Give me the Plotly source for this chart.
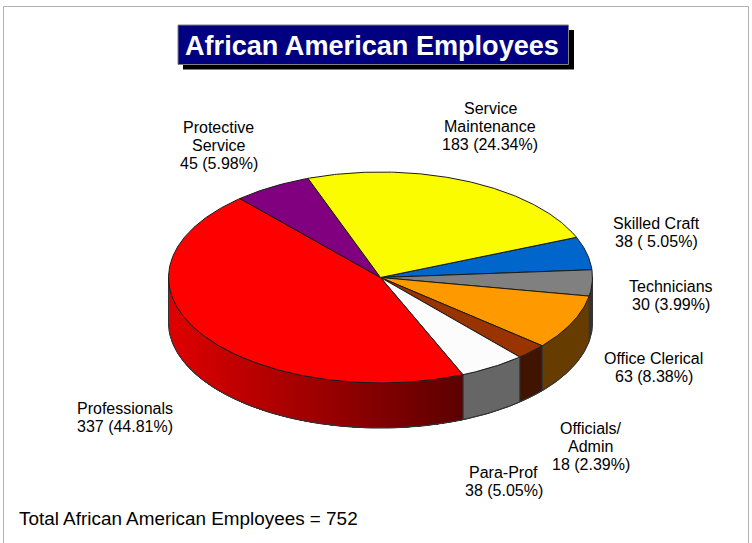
import math
import plotly.graph_objects as go

# Data, in drawing order (clockwise from the yellow / blue boundary)
categories = ["Skilled Craft", "Technicians", "Office Clerical", "Officials/ Admin",
              "Para-Prof", "Professionals", "Protective Service", "Service Maintenance"]
values = [38, 30, 63, 18, 38, 337, 45, 183]
label_lines = [
    ["Skilled Craft", "38 ( 5.05%)"],
    ["Technicians", "30 (3.99%)"],
    ["Office Clerical", "63 (8.38%)"],
    ["Officials/", "Admin", "18 (2.39%)"],
    ["Para-Prof", "38 (5.05%)"],
    ["Professionals", "337 (44.81%)"],
    ["Protective", "Service", "45 (5.98%)"],
    ["Service", "Maintenance", "183 (24.34%)"],
]
title_text = "African American Employees"
footer_text = "Total African American Employees = 752"

# Styles
top_colors = ["#0066cc", "#808080", "#ff9900", "#993300", "#fcfcfc", "#ff0000", "#800080", "#fcfc00"]
side_colors = ["#003366", "#333333", "#663c00", "#401400", "#666666", None, "#400040", "#808000"]
label_pos = [(656, 232.5), (671, 295), (653.5, 367), (590.5, 446), (503.5, 481), (125, 417), (218.5, 145), (490, 126)]

W, H = 752, 543
CX, CY, RX, RY, DEPTH = 380.5, 277.5, 212, 105.5, 45
START = 22.4
LINE = "#1a1a1a"
LABEL_STEP = 18

total = sum(values)
angles = [START]
for v in values:
    angles.append(angles[-1] - v / total * 360)


def pt(a, dy=0):
    r = math.radians(a)
    return CX + RX * math.cos(r), CY - RY * math.sin(r) + dy


def arc(a0, a1, dy=0, step=0.5):
    n = max(2, int(abs(a1 - a0) / step) + 1)
    return [pt(a0 + (a1 - a0) * i / (n - 1), dy) for i in range(n)]


fig = go.Figure()


def poly(points, fill=None, line=None, width=1, closed=True):
    xs = [p[0] for p in points]
    ys = [p[1] for p in points]
    if closed:
        xs.append(xs[0])
        ys.append(ys[0])
    fig.add_trace(go.Scatter(
        x=xs, y=ys, mode="lines", hoverinfo="skip", showlegend=False,
        fill="toself" if fill else "none", fillcolor=fill,
        line=dict(color=line or "rgba(0,0,0,0)", width=width if line else 0),
    ))


# Side wall: only the part of each slice facing the viewer (-180..0 degrees)
for i in range(len(values)):
    a0, a1 = angles[i], angles[i + 1]
    hi = min(a0, 0)
    lo = max(a1, -180)
    if hi <= lo:
        continue
    if side_colors[i] is None:
        # horizontal gradient, painted left to right so no seams appear
        strips = 70
        x_left, x_right = pt(lo)[0], pt(hi)[0]
        for s in range(strips):
            f = s / (strips - 1)
            x = x_left + (x_right - x_left) * f
            a_s = -math.degrees(math.acos(max(-1, min(1, (x - CX) / RX))))
            c = int(222 - 130 * f)
            poly(arc(a_s, hi) + arc(hi, a_s, DEPTH), fill=f"rgb({c},0,0)")
    else:
        poly(arc(hi, lo) + arc(lo, hi, DEPTH), fill=side_colors[i])
    poly(arc(hi, lo) + arc(lo, hi, DEPTH), line="#333333", width=1)

# Wall outer edge
poly(arc(0, -180, DEPTH), line="#333333", width=1, closed=False)
poly([pt(180), pt(180, DEPTH)], line="#333333", width=1, closed=False)
poly([pt(0), pt(0, DEPTH)], line="#333333", width=1, closed=False)

# Top face
for i in range(len(values)):
    poly([(CX, CY)] + arc(angles[i], angles[i + 1]), fill=top_colors[i], line=LINE, width=1)

shapes = [
    dict(type="line", x0=3.5, x1=3.5, y0=6.5, y1=H, line=dict(color="#b0b0b0", width=1)),
    dict(type="line", x0=3.5, x1=748.5, y0=6.5, y1=6.5, line=dict(color="#b0b0b0", width=1)),
    dict(type="line", x0=748.5, x1=748.5, y0=6.5, y1=H, line=dict(color="#b0b0b0", width=1)),
    dict(type="rect", x0=183, x1=574, y0=30, y1=69.5, fillcolor="#000000", line=dict(width=0)),
    dict(type="rect", x0=178, x1=568.5, y0=25, y1=64.5, fillcolor="#000080", line=dict(color="#808080", width=1)),
]

annotations = [dict(x=372.3, y=45.5, text=f"<b>{title_text}</b>", showarrow=False, xanchor="center", yanchor="middle",
                    font=dict(family="Liberation Sans", size=27.1, color="#ffffff")),
               dict(x=16.5, y=518.5, text=footer_text, showarrow=False, xanchor="left", yanchor="middle",
                    font=dict(family="Liberation Sans", size=18.9, color="#000000"))]
for lines, (x, y) in zip(label_lines, label_pos):
    first = y - LABEL_STEP * (len(lines) - 1) / 2
    for k, line in enumerate(lines):
        annotations.append(dict(x=x, y=first + k * LABEL_STEP, text=line, showarrow=False,
                                xanchor="center", yanchor="middle",
                                font=dict(family="Liberation Sans", size=16, color="#000000")))

fig.update_layout(
    width=W, height=H, margin=dict(l=0, r=0, t=0, b=0),
    paper_bgcolor="#ffffff", plot_bgcolor="#ffffff", showlegend=False,
    xaxis=dict(range=[0, W], visible=False, fixedrange=True),
    yaxis=dict(range=[H, 0], visible=False, fixedrange=True),
    shapes=shapes, annotations=annotations,
)
fig.write_html("out.html", config={"displayModeBar": False},
               post_script="document.body.style.margin='0';document.documentElement.style.overflow='hidden';")
